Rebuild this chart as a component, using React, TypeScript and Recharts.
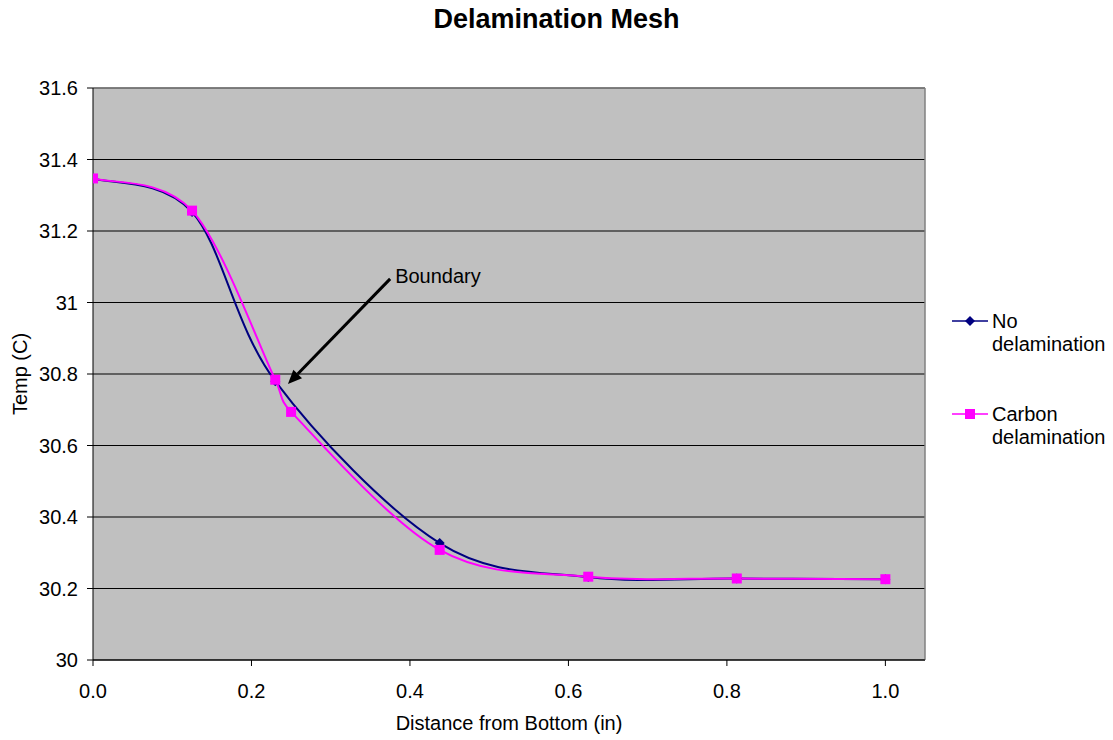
import React from "react";
import {
  LineChart,
  Line,
  XAxis,
  YAxis,
  CartesianGrid,
  ReferenceLine,
  Legend,
} from "recharts";

const noDelamX = [0, 0.125, 0.23, 0.4375, 0.625, 0.8125, 1.0];
const noDelamY = [31.347, 31.253, 30.78, 30.327, 30.232, 30.228, 30.226];
const carbonX = [0, 0.125, 0.23, 0.25, 0.4375, 0.625, 0.8125, 1.0];
const carbonY = [31.347, 31.257, 30.784, 30.694, 30.308, 30.233, 30.228, 30.226];
const yTicks = [30, 30.2, 30.4, 30.6, 30.8, 31, 31.2, 31.4, 31.6];
const xTicks = [0, 0.2, 0.4, 0.6, 0.8, 1.0];

const noDelam = noDelamX.map((x, i) => ({ x, y: noDelamY[i] }));
const carbon = carbonX.map((x, i) => ({ x, y: carbonY[i] }));

const FONT = "'Liberation Sans', Arial, sans-serif";
const NAVY = "#000080";
const PINK = "#FF00FF";

// Excel-like smoothing (Catmull-Rom bezier with handles clamped on short segments)
const excelSmooth = (context: any) => {
  let pts: [number, number][] = [];
  const clamp = (hx: number, hy: number, max: number) => {
    const l = Math.sqrt(hx * hx + hy * hy);
    if (l <= max || l === 0) return [hx, hy];
    return [(hx * max) / l, (hy * max) / l];
  };
  const flush = () => {
    const n = pts.length;
    if (!n) return;
    context.moveTo(pts[0][0], pts[0][1]);
    for (let i = 0; i < n - 1; i++) {
      const p0 = pts[i - 1] || pts[i];
      const p1 = pts[i];
      const p2 = pts[i + 1];
      const p3 = pts[i + 2] || p2;
      const chord = Math.hypot(p2[0] - p1[0], p2[1] - p1[1]);
      const [h1x, h1y] = clamp((p2[0] - p0[0]) / 6, (p2[1] - p0[1]) / 6, chord * 0.5);
      const [h2x, h2y] = clamp((p3[0] - p1[0]) / 6, (p3[1] - p1[1]) / 6, chord * 0.5);
      context.bezierCurveTo(p1[0] + h1x, p1[1] + h1y, p2[0] - h2x, p2[1] - h2y, p2[0], p2[1]);
    }
  };
  return {
    areaStart() {},
    areaEnd() {},
    lineStart() {
      pts = [];
    },
    lineEnd() {
      flush();
    },
    point(x: number, y: number) {
      pts.push([+x, +y]);
    },
  };
};

const Diamond = (props: any) => {
  const { cx, cy } = props;
  if (cx == null || cy == null) return null;
  return (
    <polygon
      points={`${cx},${cy - 5} ${cx + 5},${cy} ${cx},${cy + 5} ${cx - 5},${cy}`}
      fill={NAVY}
    />
  );
};

const Square = (props: any) => {
  const { cx, cy } = props;
  if (cx == null || cy == null) return null;
  return <rect x={cx - 5} y={cy - 5} width={10} height={10} fill={PINK} />;
};

const Arrow = (props: any) => {
  const { x1, y1, x2, y2 } = props;
  if (x1 == null) return null;
  const dx = x2 - x1;
  const dy = y2 - y1;
  const len = Math.sqrt(dx * dx + dy * dy);
  const ux = dx / len;
  const uy = dy / len;
  const hl = 14;
  const hw = 6;
  const bx = x2 - ux * hl;
  const by = y2 - uy * hl;
  return (
    <g>
      <line x1={x1} y1={y1} x2={bx} y2={by} stroke="#000" strokeWidth={3} />
      <polygon
        points={`${x2},${y2} ${bx - uy * hw},${by + ux * hw} ${bx + uy * hw},${by - ux * hw}`}
        fill="#000"
      />
      <text x={x1 + 5} y={y1 - 3} fontSize={20} fontFamily={FONT} dominantBaseline="central">
        Boundary
      </text>
    </g>
  );
};

const renderLegend = () => {
  const items = [
    { color: NAVY, lines: ["No", "delamination"], shape: "diamond" },
    { color: PINK, lines: ["Carbon", "delamination"], shape: "square" },
  ];
  return (
    <div style={{ fontFamily: FONT, fontSize: 20 }}>
      {items.map((it, i) => (
        <div key={i} style={{ display: "flex", alignItems: "flex-start", marginBottom: i === 0 ? 47 : 0 }}>
          <svg width={38} height={22} style={{ flex: "none" }}>
            <line x1={0} y1={11} x2={36} y2={11} stroke={it.color} strokeWidth={1.5} />
            {it.shape === "diamond" ? (
              <polygon points="18,6 23,11 18,16 13,11" fill={it.color} />
            ) : (
              <rect x={13} y={6} width={10} height={10} fill={it.color} />
            )}
          </svg>
          <div style={{ lineHeight: "23px", marginLeft: 2 }}>
            {it.lines.map((l, j) => (
              <div key={j}>{l}</div>
            ))}
          </div>
        </div>
      ))}
    </div>
  );
};

export default function App() {
  return (
    <div style={{ position: "absolute", left: 0, top: 0, width: 1113, height: 740, background: "#fff" }}>
      <div
        style={{
          position: "absolute",
          top: 4,
          left: 0,
          width: 1113,
          textAlign: "center",
          fontFamily: FONT,
          fontWeight: "bold",
          fontSize: 27,
        }}
      >
        Delamination Mesh
      </div>
      <LineChart width={1113} height={740} margin={{ top: 88, right: 28, bottom: 30, left: 33 }}>
        <CartesianGrid
          horizontal
          vertical={false}
          fill="#C0C0C0"
          stroke="#000"
          strokeOpacity={1}
          horizontalValues={yTicks}
        />
        <XAxis
          type="number"
          dataKey="x"
          domain={[0, 1.05]}
          ticks={xTicks}
          allowDataOverflow
          tickFormatter={(v: number) => v.toFixed(1)}
          tick={{ fill: "#000", fontSize: 20, fontFamily: FONT }}
          tickSize={6}
          tickMargin={18}
          stroke="#000"
          height={50}
          label={{
            value: "Distance from Bottom (in)",
            position: "insideBottom",
            offset: -20,
            fill: "#000",
            fontSize: 20,
            fontFamily: FONT,
          }}
        />
        <YAxis
          type="number"
          dataKey="y"
          domain={[30, 31.6]}
          ticks={yTicks}
          allowDataOverflow
          tickFormatter={(v: number) => String(Math.round(v * 10) / 10)}
          tick={{ fill: "#000", fontSize: 20, fontFamily: FONT }}
          tickSize={6}
          tickMargin={9}
          stroke="#000"
          width={60}
          label={{
            value: "Temp (C)",
            angle: -90,
            position: "insideLeft",
            dx: -18,
            style: { textAnchor: "middle" },
            fill: "#000",
            fontSize: 20,
            fontFamily: FONT,
          }}
        />
        <ReferenceLine x={1.05} stroke="#808080" strokeWidth={1.5} />
        <ReferenceLine y={31.6} stroke="#808080" strokeWidth={1.5} />
        <Line
          data={noDelam}
          dataKey="y"
          name="No delamination"
          type={excelSmooth as any}
          stroke={NAVY}
          strokeWidth={2}
          dot={<Diamond />}
          activeDot={false}
          isAnimationActive={false}
        />
        <Line
          data={carbon}
          dataKey="y"
          name="Carbon delamination"
          type={excelSmooth as any}
          stroke={PINK}
          strokeWidth={2}
          dot={<Square />}
          activeDot={false}
          isAnimationActive={false}
        />
        <ReferenceLine
          segment={[
            { x: 0.375, y: 31.066 },
            { x: 0.246, y: 30.772 },
          ]}
          shape={<Arrow />}
        />
        <Legend
          layout="vertical"
          align="right"
          verticalAlign="top"
          content={renderLegend}
          wrapperStyle={{ left: 952, top: 310, width: 160 }}
        />
      </LineChart>
    </div>
  );
}
